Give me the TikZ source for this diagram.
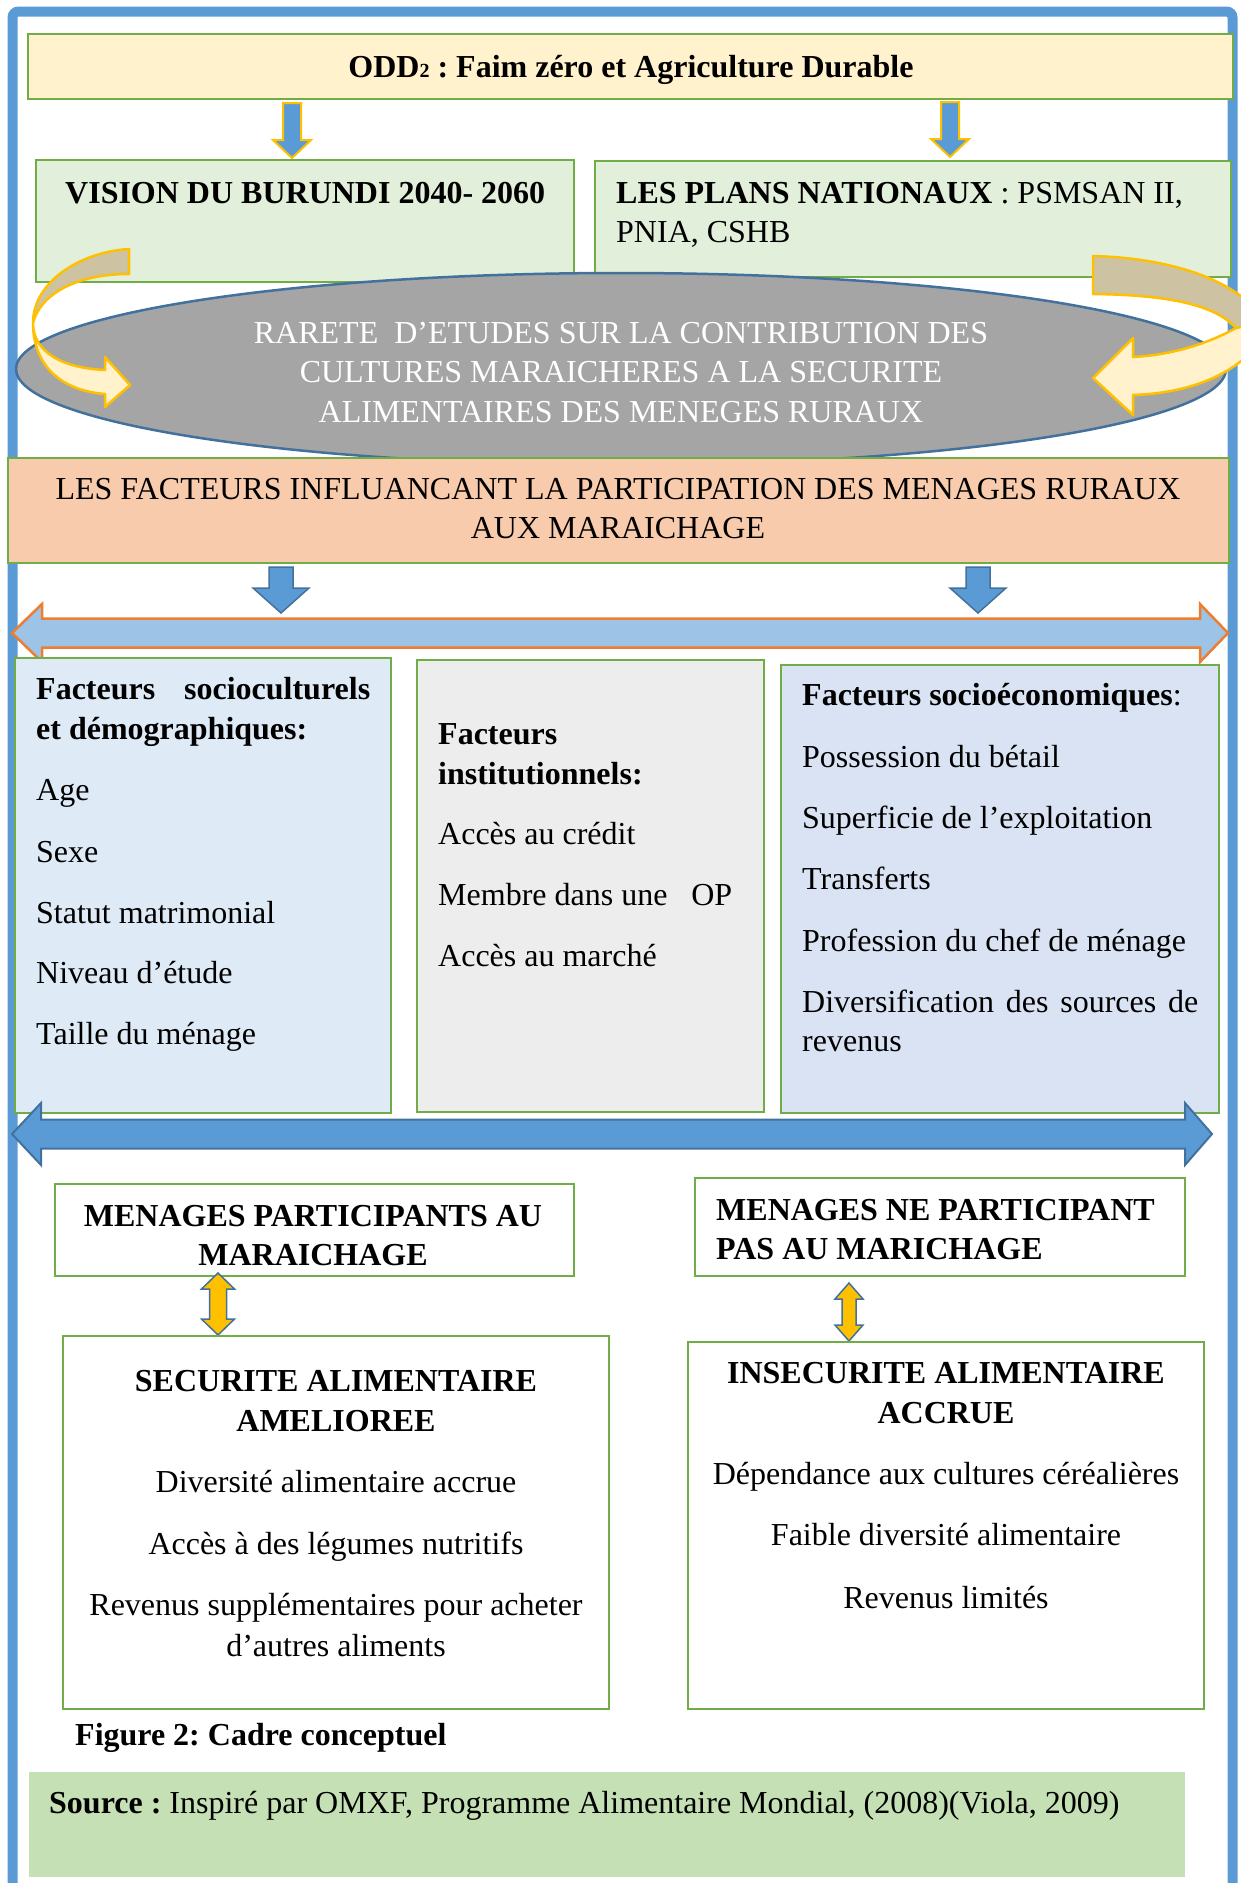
\documentclass[tikz,border=0pt]{standalone}
\usepackage{fontspec}
\setmainfont{Liberation Serif}
\usetikzlibrary{shapes.geometric}
\frenchspacing
\definecolor{frameblue}{HTML}{5B9BD5}
\definecolor{darkedge}{HTML}{41719C}
\definecolor{boxgreen}{HTML}{70AD47}
\definecolor{oddyellow}{HTML}{FFF2CC}
\definecolor{visgreen}{HTML}{E2EFDA}
\definecolor{ellgray}{HTML}{A5A5A5}
\definecolor{facorange}{HTML}{F8CBAD}
\definecolor{lightarrow}{HTML}{9DC3E6}
\definecolor{arroworange}{HTML}{ED7D31}
\definecolor{leftfill}{HTML}{DEEBF7}
\definecolor{midfill}{HTML}{EDEDED}
\definecolor{rightfill}{HTML}{DAE3F3}
\definecolor{srcgreen}{HTML}{C5E0B4}
\definecolor{goldc}{HTML}{FFC000}
\definecolor{tanc}{HTML}{CDC2A2}
\definecolor{paleyellow}{HTML}{FFF2CC}

\tikzset{
  box/.style={draw=boxgreen, line width=2.5pt, rectangle, inner sep=0pt},
  txt/.style={inner sep=0pt, font=\fontsize{32}{39.5}\selectfont},
  goldarrow/.style={fill=frameblue, draw=goldc, line width=2pt},
  bluearrow/.style={fill=frameblue, draw=darkedge, line width=1.5pt},
  curvefill/.style={draw=goldc, line width=2.5pt, line join=round},
}

% down block arrow: x, ytop, ybase, ytip, half shaft, half head, style
\newcommand\dnarrow[7]{%
  \draw[#7] (#1-#5,#2) -- (#1+#5,#2) -- (#1+#5,#3) -- (#1+#6,#3) -- (#1,#4)
    -- (#1-#6,#3) -- (#1-#5,#3) -- cycle;}
% horizontal double arrow: xtipL, xbackL, xbackR, xtipR, yc, hs, hh, style
\newcommand\hdarrow[8]{%
  \draw[#8] (#1,#5) -- (#2,#5-#7) -- (#2,#5-#6) -- (#3,#5-#6) -- (#3,#5-#7)
    -- (#4,#5) -- (#3,#5+#7) -- (#3,#5+#6) -- (#2,#5+#6) -- (#2,#5+#7) -- cycle;}
% vertical double arrow: x, ytop, ybot, headlen, hs, hh
\newcommand\vdarrow[6]{%
  \draw[fill=goldc, draw=darkedge, line width=1.5pt] (#1,#2) -- (#1+#6,#2+#4)
    -- (#1+#5,#2+#4) -- (#1+#5,#3-#4) -- (#1+#6,#3-#4) -- (#1,#3)
    -- (#1-#6,#3-#4) -- (#1-#5,#3-#4) -- (#1-#5,#2+#4) -- (#1-#6,#2+#4) -- cycle;}

\begin{document}
\begin{tikzpicture}[x=1pt,y=-1pt]
\useasboundingbox (0,0) rectangle (1241,1883);
\clip (0,0) rectangle (1241,1883);

% outer frame
\draw[frameblue, line width=10pt, rounded corners=6pt]
  (12.5,1900) -- (12.5,11.5) -- (1232.5,11.5) -- (1232.5,1900);

% top box
\node[box, fill=oddyellow, minimum width=1205, minimum height=65] (odd) at (630.5,66.5) {};
\node[txt, anchor=base] (oddt) at (631,77) {\bfseries ODD{\fontsize{20}{20}\selectfont 2} : Faim zéro et Agriculture Durable};

\dnarrow{292}{103}{140}{158}{9}{19}{goldarrow}
\dnarrow{950}{102}{139}{157}{9}{19}{goldarrow}

\node[box, fill=visgreen, minimum width=538, minimum height=122] (vision) at (305,221) {};
\node[txt, anchor=base west] (visiont) at (65,203) {\bfseries VISION DU BURUNDI 2040- 2060};

\node[box, fill=visgreen, minimum width=636, minimum height=116] (plans) at (913,219) {};
\node[txt, anchor=base west] (plans1) at (616,203) {\textbf{LES PLANS NATIONAUX} : PSMSAN II,};
\node[txt, anchor=base west] (plans2) at (616,242) {PNIA, CSHB};

% ellipse
\node[ellipse, draw=darkedge, line width=2.5pt, fill=ellgray, minimum width=1210, minimum height=192, inner sep=0pt] (rarete) at (621,369) {};
\node[txt, anchor=base, text=white] (rar1) at (621,343) {RARETE\ \ D’ETUDES SUR LA CONTRIBUTION DES};
\node[txt, anchor=base, text=white] (rar2) at (621,382) {CULTURES MARAICHERES A LA SECURITE};
\node[txt, anchor=base, text=white] (rar3) at (621,422) {ALIMENTAIRES DES MENEGES RURAUX};

% factors box
\node[box, fill=facorange, minimum width=1221, minimum height=105] (fact) at (618.5,510.5) {};
\node[txt, anchor=base] (fact1) at (618,499) {LES FACTEURS INFLUANCANT LA PARTICIPATION DES MENAGES RURAUX};
\node[txt, anchor=base] (fact2) at (618,538) {AUX MARAICHAGE};

% left curved arrow
\path[fill=tanc] (129,249) .. controls (80,252) and (33,282) .. (33,323)
   .. controls (40,295) and (75,274) .. (129,274) -- cycle;
\path[fill=paleyellow] (33,323) .. controls (33,352) and (62,368) .. (105,370)
   -- (105,357) -- (130,385) -- (105,407) -- (105,394)
   .. controls (55,390) and (33,360) .. (33,323) -- cycle;
\draw[curvefill] (129,249) .. controls (80,252) and (33,282) .. (33,323)
   .. controls (33,360) and (55,390) .. (105,394) -- (105,407) -- (130,385)
   -- (105,357) -- (105,370) .. controls (62,368) and (33,352) .. (33,323)
   .. controls (40,295) and (75,274) .. (129,274) -- cycle;

% right curved arrow
\path[fill=tanc] (1093,256) .. controls (1170,258) and (1240,280) .. (1265,322)
   -- (1236,328) .. controls (1215,305) and (1170,295) .. (1093,294) -- cycle;
\path[fill=paleyellow] (1236,328) .. controls (1205,345) and (1170,355) .. (1133,357)
   -- (1133,338) -- (1093,378) -- (1133,415) -- (1133,395)
   .. controls (1190,393) and (1235,375) .. (1262,340) -- (1265,322) -- cycle;
\draw[curvefill] (1093,256) .. controls (1170,258) and (1240,280) .. (1265,322)
   -- (1262,340) .. controls (1235,375) and (1190,393) .. (1133,395)
   -- (1133,415) -- (1093,378) -- (1133,338) -- (1133,357)
   .. controls (1170,355) and (1205,345) .. (1236,328)
   .. controls (1215,305) and (1170,295) .. (1093,294) -- cycle;
\draw[goldc, line width=2.5pt] (1236,328) -- (1265,322);

% blue down arrows
\dnarrow{281}{567}{588}{613}{12}{28}{bluearrow}
\dnarrow{978}{567}{588}{613}{12}{28}{bluearrow}

% light double arrow
\hdarrow{12}{42}{1200}{1228}{633}{14.5}{29}{fill=lightarrow, draw=arroworange, line width=2.5pt}

% three factor boxes
\node[box, fill=leftfill, minimum width=376, minimum height=455] (leftbox) at (203,885.5) {};
\node[box, fill=midfill, minimum width=347, minimum height=452] (midbox) at (590.5,886) {};
\node[box, fill=rightfill, minimum width=438, minimum height=448] (rightbox) at (1000,889) {};

\node[txt, anchor=base west] (l1) at (36,699) {\makebox[334pt][s]{\bfseries Facteurs\hfill socioculturels}};
\node[txt, anchor=base west] (l2) at (36,739) {\bfseries et démographiques:};
\node[txt, anchor=base west] (l3) at (36,800) {Age};
\node[txt, anchor=base west] (l4) at (36,862) {Sexe};
\node[txt, anchor=base west] (l5) at (36,923) {Statut matrimonial};
\node[txt, anchor=base west] (l6) at (36,983) {Niveau d’étude};
\node[txt, anchor=base west] (l7) at (36,1044) {Taille du ménage};

\node[txt, anchor=base west] (m1) at (438,744) {\bfseries Facteurs};
\node[txt, anchor=base west] (m2) at (438,784) {\bfseries institutionnels:};
\node[txt, anchor=base west] (m3) at (438,844) {Accès au crédit};
\node[txt, anchor=base west] (m4) at (438,905) {\makebox[294pt][s]{Membre dans une\hfill OP}};
\node[txt, anchor=base west] (m5) at (438,966) {Accès au marché};

\node[txt, anchor=base west] (r1) at (802,705) {\textbf{Facteurs socioéconomiques}:};
\node[txt, anchor=base west] (r2) at (802,767) {Possession du bétail};
\node[txt, anchor=base west] (r3) at (802,828) {Superficie de l’exploitation};
\node[txt, anchor=base west] (r4) at (802,889) {Transferts};
\node[txt, anchor=base west] (r5) at (802,951) {Profession du chef de ménage};
\node[txt, anchor=base west] (r6) at (802,1012) {\makebox[396pt][s]{Diversification des sources de}};
\node[txt, anchor=base west] (r7) at (802,1051) {revenus};

% dark double arrow
\hdarrow{12}{41}{1185}{1212}{1134}{14.5}{31}{fill=frameblue, draw=darkedge, line width=2pt}

% household boxes
\node[box, fill=white, minimum width=519, minimum height=92] (part) at (314.5,1230) {};
\node[txt, anchor=base] (p1) at (313,1226) {\bfseries MENAGES PARTICIPANTS AU};
\node[txt, anchor=base] (p2) at (313,1265) {\bfseries MARAICHAGE};

\node[box, fill=white, minimum width=490, minimum height=98] (nopart) at (940,1227) {};
\node[txt, anchor=base west] (np1) at (716,1220) {\bfseries MENAGES NE PARTICIPANT};
\node[txt, anchor=base west] (np2) at (716,1259) {\bfseries PAS AU MARICHAGE};

\vdarrow{218}{1273}{1335}{16}{8.5}{16.5}
\vdarrow{849}{1283}{1341}{16}{7}{14}

\node[box, fill=white, minimum width=546, minimum height=373] (secu) at (336,1522.5) {};
\node[txt, anchor=base] (s1) at (336,1391) {\bfseries SECURITE ALIMENTAIRE};
\node[txt, anchor=base] (s2) at (336,1431) {\bfseries AMELIOREE};
\node[txt, anchor=base] (s3) at (336,1492) {Diversité alimentaire accrue};
\node[txt, anchor=base] (s4) at (336,1554) {Accès à des légumes nutritifs};
\node[txt, anchor=base] (s5) at (336,1615) {Revenus supplémentaires pour acheter};
\node[txt, anchor=base] (s6) at (336,1656) {d'autres aliments};

\node[box, fill=white, minimum width=516, minimum height=367] (insecu) at (946,1525.5) {};
\node[txt, anchor=base] (i1) at (946,1383) {\bfseries INSECURITE ALIMENTAIRE};
\node[txt, anchor=base] (i2) at (946,1423) {\bfseries ACCRUE};
\node[txt, anchor=base] (i3) at (946,1484) {Dépendance aux cultures céréalières};
\node[txt, anchor=base] (i4) at (946,1545) {Faible diversité alimentaire};
\node[txt, anchor=base] (i5) at (946,1608) {Revenus limités};

% caption and source
\node[txt, anchor=base west] (fig) at (75,1745) {\bfseries Figure 2: Cadre conceptuel};
\node[fill=srcgreen, minimum width=1156, minimum height=105, inner sep=0pt] (source) at (607,1824.5) {};
\node[txt, anchor=base west] (srct) at (49,1813) {\textbf{Source :} Inspiré par OMXF, Programme Alimentaire Mondial, (2008)(Viola, 2009)};
\end{tikzpicture}
\end{document}
